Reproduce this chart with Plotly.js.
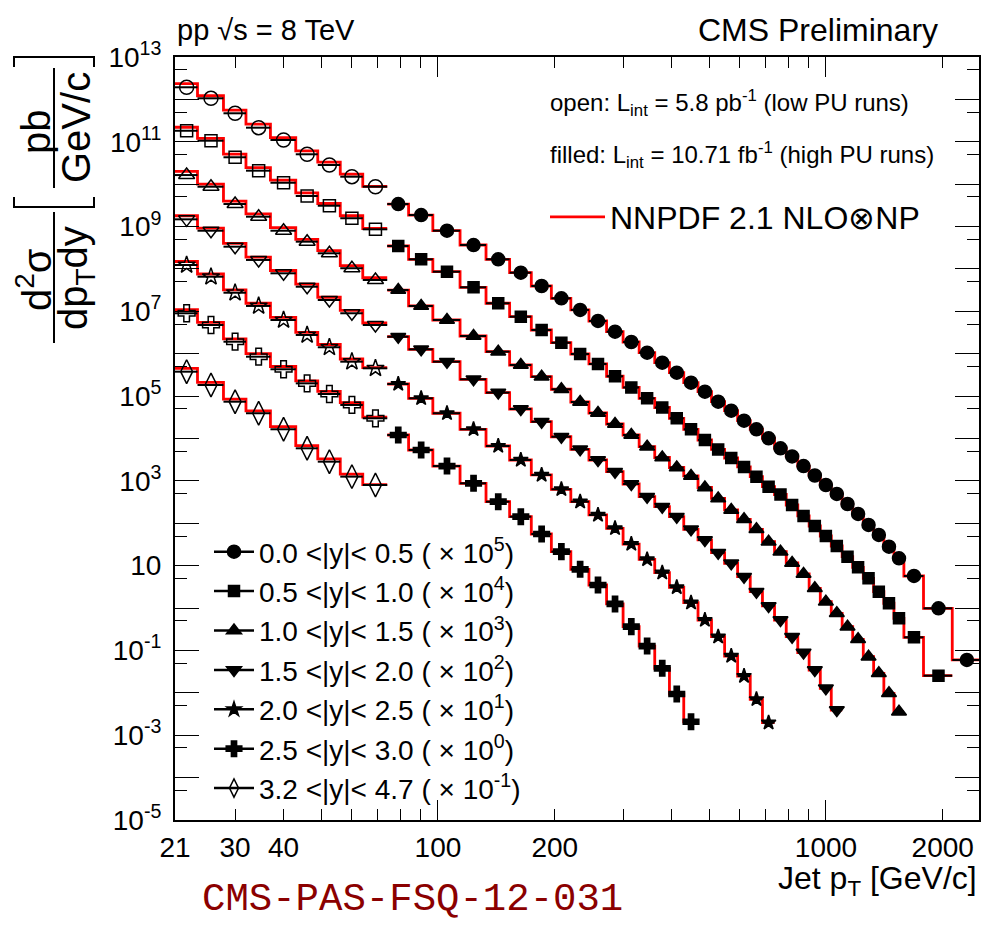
<!DOCTYPE html>
<html><head><meta charset="utf-8">
<script src="https://cdn.plot.ly/plotly-3.0.1.min.js"></script>
<style>html,body{margin:0;padding:0;background:#fff}</style>
</head><body><div id="chart" style="width:983px;height:925px"></div>
<script>
// ---------- bin edges (GeV/c) ----------
const edgesLow = [21,24,28,32,37,43,49,56,64,74];
const edgesHigh = [74,84,97,114,133,153,174,196,220,245,272,300,330,362,395,430,468,507,548,592,638,686,737,790,846,905,967,1032,1101,1172,1248,1327,1410,1497,1588,1784,2116,2500];

// ---------- low PU data (open markers), scaled ----------
const lowY0 = [1.93e12,1.06e12,4.70e11,2.15e11,1.10e11,5.07e10,2.83e10,1.50e10,8.71e9];
const lowY1 = [1.82e11,1.06e11,4.31e10,2.08e10,1.08e10,5.26e9,3.10e9,1.57e9,8.61e8];
const lowY2 = [1.64e10,8.71e9,3.40e9,1.71e9,7.98e8,4.40e8,2.34e8,1.04e8,5.48e7];
const lowY3 = [1.48e9,7.98e8,3.35e8,1.63e8,7.89e7,3.81e7,1.85e7,9.0e6,4.76e6];
const lowY4 = [1.24e8,6.56e7,2.75e7,1.34e7,6.25e6,2.77e6,1.42e6,6.49e5,4.53e5];
const lowY5 = [9.0e6,4.76e6,1.92e6,8.51e5,4.30e5,2.0e5,1.12e5,6.18e4,3.0e4];
const lowY6 = [3.77e5,1.83e5,7.38e4,3.94e4,1.65e4,5.87e3,2.84e3,1.26e3,800];

// ---------- low PU theory ----------
const lowTh0 = [2.35e12,1.22e12,5.6e11,2.6e11,1.25e11,6.1e10,3.3e10,1.72e10,8.9e9];
const lowTh1 = [2.2e11,1.2e11,5.1e10,2.45e10,1.25e10,6.2e9,3.5e9,1.8e9,9.0e8];
const lowTh2 = [2.0e10,1.0e10,4.0e9,2.0e9,9.4e8,5.0e8,2.7e8,1.2e8,6.2e7];
const lowTh3 = [1.8e9,9.2e8,4.0e8,1.9e8,9.2e7,4.4e7,2.15e7,1.05e7,5.3e6];
const lowTh4 = [1.5e8,7.6e7,3.2e7,1.55e7,7.2e6,3.2e6,1.65e6,7.5e5,4.7e5];
const lowTh5 = [1.1e7,5.5e6,2.25e6,1.0e6,5.0e5,2.3e5,1.3e5,7.0e4,3.2e4];
const lowTh6 = [4.5e5,2.1e5,8.5e4,4.5e4,1.9e4,6.8e3,3.3e3,1.45e3,820];

// ---------- high PU data (filled markers), scaled ----------
const highY0 = [3.40e9,1.87e9,7.98e8,3.67e8,1.69e8,8.17e7,3.96e7,2.03e7,1.08e7,5.92e6,3.31e6,1.89e6,1.06e6,6.14e5,3.57e5,2.07e5,1.27e5,7.38e4,4.53e4,2.63e4,1.65e4,1.01e4,5.87e3,3.77e3,2.24e3,1.34e3,800,491,285,166,91.2,53.0,28.1,14.9,5.71,0.986,0.0596];
const highY1 = [3.48e8,1.69e8,8.61e7,3.69e7,1.55e7,7.48e6,3.63e6,1.82e6,9.86e5,5.73e5,2.94e5,1.60e5,8.89e4,5.38e4,3.0e4,1.65e4,9.23e3,5.51e3,3.47e3,2.13e3,1.26e3,730,478,270,149,86.3,50.1,29.1,16.3,9.16,5.04,2.43,1.30,0.574,0.204,0.0254];
const highY2 = [3.18e7,1.34e7,6.25e6,2.62e6,1.12e6,5.42e5,2.87e5,1.45e5,7.26e4,4.0e4,2.20e4,1.21e4,6.41e3,3.56e3,2.07e3,1.31e3,698,385,206,124,72.1,36.8,21.4,11.6,6.37,2.92,1.41,0.752,0.363,0.183,0.0713,0.0289,9.75e-3,3.59e-3];
const highY3 = [2.52e6,1.27e6,6.49e5,2.49e5,1.21e5,4.97e4,2.49e4,1.10e4,5.56e3,3.11e3,1.65e3,845,424,246,143,72.1,40.4,20.2,11.4,5.50,2.43,1.12,0.522,0.211,0.0895,0.0346,0.0128,3.94e-3];
const highY4 = [1.93e5,8.89e4,3.94e4,1.65e4,6.65e3,3.11e3,1.38e3,634,323,157,76.2,32.4,14.1,6.82,3.09,1.34,0.522,0.211,0.0740,0.0249,7.05e-3,1.98e-3];
const highY5 = [1.21e4,5.36e3,2.24e3,877,323,143,55.8,21.4,8.22,3.50,1.25,0.364,0.127,0.0379,9.39e-3,2.08e-3];

// ---------- high PU theory ----------
const highTh0 = [3.40e9,1.87e9,7.98e8,3.67e8,1.69e8,8.17e7,3.96e7,2.03e7,1.08e7,5.92e6,3.31e6,1.89e6,1.06e6,6.14e5,3.57e5,2.07e5,1.27e5,7.38e4,4.53e4,2.63e4,1.65e4,1.01e4,5.87e3,3.77e3,2.24e3,1.34e3,800,491,285,166,91.2,53.0,28.1,14.9,5.71,0.986,0.0596];
const highTh1 = [3.48e8,1.69e8,8.61e7,3.69e7,1.55e7,7.48e6,3.63e6,1.82e6,9.86e5,5.73e5,2.94e5,1.60e5,8.89e4,5.38e4,3.0e4,1.65e4,9.23e3,5.51e3,3.47e3,2.13e3,1.26e3,730,478,270,149,86.3,50.1,29.1,16.3,9.16,5.04,2.43,1.30,0.574,0.204,0.0254];
const highTh2 = [3.18e7,1.34e7,6.25e6,2.62e6,1.12e6,5.42e5,2.87e5,1.45e5,7.26e4,4.0e4,2.20e4,1.21e4,6.41e3,3.56e3,2.07e3,1.31e3,698,385,206,124,72.1,36.8,21.4,11.6,6.37,2.92,1.41,0.752,0.363,0.183,0.0713,0.0289,9.75e-3,3.59e-3];
const highTh3 = [2.52e6,1.27e6,6.49e5,2.49e5,1.21e5,4.97e4,2.49e4,1.10e4,5.56e3,3.11e3,1.65e3,845,424,246,143,72.1,40.4,20.2,11.4,5.50,2.43,1.12,0.522,0.211,0.0895,0.0346,0.0128,3.94e-3];
const highTh4 = [1.93e5,8.89e4,3.94e4,1.65e4,6.65e3,3.11e3,1.38e3,634,323,157,76.2,32.4,14.1,6.82,3.09,1.34,0.522,0.211,0.0740,0.0249,7.05e-3,1.98e-3];
const highTh5 = [1.21e4,5.36e3,2.24e3,877,323,143,55.8,21.4,8.22,3.50,1.25,0.364,0.127,0.0379,9.39e-3,2.08e-3];

// ---------- labels ----------
const seriesLabels = [
  '0.0 &lt;|y|&lt; 0.5 ( × 10<sup>5</sup>)',
  '0.5 &lt;|y|&lt; 1.0 ( × 10<sup>4</sup>)',
  '1.0 &lt;|y|&lt; 1.5 ( × 10<sup>3</sup>)',
  '1.5 &lt;|y|&lt; 2.0 ( × 10<sup>2</sup>)',
  '2.0 &lt;|y|&lt; 2.5 ( × 10<sup>1</sup>)',
  '2.5 &lt;|y|&lt; 3.0 ( × 10<sup>0</sup>)',
  '3.2 &lt;|y|&lt; 4.7 ( × 10<sup>-1</sup>)'
];
const theoryLabel = 'NNPDF 2.1 NLO⊗NP';
const xLabelVals = [21,30,40,100,200,1000,2000];
const xLabelText = ['21','30','40','100','200','1000','2000'];
const xMinorVals = [30,40,50,60,70,80,90,200,300,400,500,600,700,800,900,2000];
const yMajorVals = [1e-5,1e-4,1e-3,1e-2,1e-1,1,10,100,1e3,1e4,1e5,1e6,1e7,1e8,1e9,1e10,1e11,1e12,1e13];
const yMajorText = ['10<sup>-5</sup>','','10<sup>-3</sup>','','10<sup>-1</sup>','','10','','10<sup>3</sup>','','10<sup>5</sup>','','10<sup>7</sup>','','10<sup>9</sup>','','10<sup>11</sup>','','10<sup>13</sup>'];
const yMinorVals = [5e-5,5e-4,5e-3,5e-2,5e-1,5,50,500,5e3,5e4,5e5,5e6,5e7,5e8,5e9,5e10,5e11,5e12];

const lowData = [lowY0,lowY1,lowY2,lowY3,lowY4,lowY5,lowY6];
const lowTheory = [lowTh0,lowTh1,lowTh2,lowTh3,lowTh4,lowTh5,lowTh6];
const highData = [highY0,highY1,highY2,highY3,highY4,highY5,null];
const highTheory = [highTh0,highTh1,highTh2,highTh3,highTh4,highTh5,null];

const filledSym = ['circle','square','triangle-up','triangle-down','star','cross','diamond-tall-open'];
const filledSize = [13,11,13,13,11,13,17];
const openSym = ['circle-open','square-open','triangle-up-open','triangle-down-open','star-open','cross-open','diamond-tall-open'];
const openSize = [14,12,14,14,13,14,17];

const FONT = 'Liberation Sans, Arial, sans-serif';
const RED = '#ff0000';

function centers(e, n){ const c=[]; for(let i=0;i<n;i++) c.push((e[i]+e[i+1])/2); return c; }
function errP(e, n){ const c=centers(e,n); return c.map((v,i)=>e[i+1]-v); }
function errM(e, n){ const c=centers(e,n); return c.map((v,i)=>v-e[i]); }
function stepY(v){ return v.concat([v[v.length-1]]); }

const traces = [];
let theoryLegendShown = false;
function theoryTrace(edges, vals){
  const t = {type:'scatter', mode:'lines', x: edges.slice(0, vals.length+1), y: stepY(vals),
    line:{shape:'hv', color:RED, width:2.8}, hoverinfo:'skip',
    name: theoryLabel, legend:'legend2', showlegend: !theoryLegendShown};
  theoryLegendShown = true;
  return t;
}
function dataTrace(edges, vals, sym, size){
  const n = vals.length;
  return {type:'scatter', mode:'markers', x: centers(edges,n), y: vals, showlegend:false,
    marker:{symbol:sym, size:size, color:'#000', line:{color:'#000', width:1.5}},
    error_x:{type:'data', symmetric:false, array: errP(edges,n), arrayminus: errM(edges,n),
      color:'#000', thickness:2, width:0}};
}
for(let s=0;s<7;s++){
  traces.push(theoryTrace(edgesLow, lowTheory[s]));
  if(highTheory[s]) traces.push(theoryTrace(edgesHigh, highTheory[s]));
}
for(let s=0;s<7;s++){
  traces.push(dataTrace(edgesLow, lowData[s], openSym[s], openSize[s]));
  if(highData[s]) traces.push(dataTrace(edgesHigh, highData[s], filledSym[s], filledSize[s]));
}
// legend entries
for(let s=0;s<7;s++){
  traces.push({type:'scatter', mode:'lines+markers', x:[null], y:[null], xaxis:'x2', name: seriesLabels[s],
    line:{color:'#000', width:2.5}, marker:{symbol: filledSym[s], size: Math.min(filledSize[s],13), color:'#000', line:{color:'#000', width:1.5}},
    legend:'legend', showlegend:true});
}

// pixel helpers for paper coords (plot area: x 175..979, y 57..820)
const px = v => (v-175)/804;
const py = v => (820-v)/763;

const xr = [Math.log10(21), Math.log10(2480)];
const axisCommon = {showgrid:false, zeroline:false, color:'#000'};
const yTitleFont = {family:FONT, size:40, color:'#000'};
const layout = {
  width:983, height:925,
  margin:{l:175, r:4, t:57, b:105, pad:0},
  paper_bgcolor:'#fff', plot_bgcolor:'#fff',
  font:{family:FONT, color:'#000'},
  xaxis: Object.assign({}, axisCommon, {type:'log', range:xr, tickmode:'array', tickvals:[100,1000], ticktext:['',''],
    showticklabels:false, ticks:'inside', ticklen:20, tickwidth:1, tickcolor:'#000',
    showline:true, linewidth:2, linecolor:'#000', mirror:'ticks',
    minor:{tickmode:'array', tickvals:xMinorVals, ticks:'inside', ticklen:11, tickwidth:1, tickcolor:'#000', showgrid:false}}),
  xaxis2: Object.assign({}, axisCommon, {type:'log', range:xr, overlaying:'x', anchor:'y', side:'bottom',
    tickmode:'array', tickvals:xLabelVals, ticktext:xLabelText, ticks:'', showline:false,
    tickfont:{family:FONT, size:28, color:'#000'}, ticklabelstandoff:8}),
  yaxis: Object.assign({}, axisCommon, {type:'log', range:[-5,13], tickmode:'array', tickvals:yMajorVals, ticktext:yMajorText,
    ticks:'inside', ticklen:24, tickwidth:1, tickcolor:'#000',
    showline:true, linewidth:2, linecolor:'#000', mirror:'ticks',
    tickfont:{family:FONT, size:28, color:'#000'}, ticklabelstandoff:6,
    minor:{tickmode:'array', tickvals:yMinorVals, ticks:'inside', ticklen:12, tickwidth:1, tickcolor:'#000', showgrid:false}}),
  legend:{x:px(209), xanchor:'left', y:py(670), yanchor:'middle', bgcolor:'rgba(0,0,0,0)', borderwidth:0,
    font:{family:FONT, size:28, color:'#000'}, itemwidth:40, tracegroupgap:0},
  legend2:{x:px(545), xanchor:'left', y:py(217), yanchor:'middle', bgcolor:'rgba(0,0,0,0)', borderwidth:0,
    font:{family:FONT, size:32, color:'#000'}, itemwidth:55},
  showlegend:true,
  annotations:[
    {xref:'paper', yref:'paper', x:0, y:py(30), xanchor:'left', yanchor:'middle', showarrow:false,
      text:'pp √s = 8 TeV', font:{family:FONT, size:29, color:'#000'}},
    {xref:'paper', yref:'paper', x:px(940), y:py(30), xanchor:'right', yanchor:'middle', showarrow:false,
      text:'CMS Preliminary', font:{family:FONT, size:32, color:'#000'}},
    {xref:'paper', yref:'paper', x:px(548), y:py(103), xanchor:'left', yanchor:'middle', showarrow:false,
      text:'open: L<sub>int</sub> = 5.8 pb<sup>-1</sup> (low PU runs)', font:{family:FONT, size:24, color:'#000'}},
    {xref:'paper', yref:'paper', x:px(548), y:py(155), xanchor:'left', yanchor:'middle', showarrow:false,
      text:'filled: L<sub>int</sub> = 10.71 fb<sup>-1</sup> (high PU runs)', font:{family:FONT, size:24, color:'#000'}},
    {xref:'paper', yref:'paper', x:1, y:py(881), xanchor:'right', yanchor:'middle', showarrow:false,
      text:'Jet p<sub>T</sub> [GeV/c]', font:{family:FONT, size:32, color:'#000'}},
    {xref:'paper', yref:'paper', x:px(200), y:py(900), xanchor:'left', yanchor:'middle', showarrow:false,
      text:'CMS-PAS-FSQ-12-031', font:{family:'Liberation Mono, DejaVu Sans Mono, monospace', size:39, color:'#8b0000'}},
    // y-axis title pieces
    {xref:'paper', yref:'paper', x:px(34), y:py(280), xanchor:'center', yanchor:'middle', textangle:-90, showarrow:false,
      text:'d<sup>2</sup>σ', font:yTitleFont},
    {xref:'paper', yref:'paper', x:px(76), y:py(278), xanchor:'center', yanchor:'middle', textangle:-90, showarrow:false,
      text:'dp<sub>T</sub>dy', font:yTitleFont},
    {xref:'paper', yref:'paper', x:px(36), y:py(132), xanchor:'center', yanchor:'middle', textangle:-90, showarrow:false,
      text:'pb', font:yTitleFont},
    {xref:'paper', yref:'paper', x:px(76), y:py(128), xanchor:'center', yanchor:'middle', textangle:-90, showarrow:false,
      text:'GeV/c', font:yTitleFont}
  ],
  shapes:[
    {type:'line', xref:'paper', yref:'paper', x0:px(54), x1:px(54), y0:py(212), y1:py(343), line:{color:'#000', width:2}},
    {type:'line', xref:'paper', yref:'paper', x0:px(54), x1:px(54), y0:py(68), y1:py(188), line:{color:'#000', width:2}},
    {type:'path', xref:'paper', yref:'paper',
      path:`M ${px(14)} ${py(197)} L ${px(14)} ${py(207)} L ${px(94)} ${py(207)} L ${px(94)} ${py(197)}`, line:{color:'#000', width:2}},
    {type:'path', xref:'paper', yref:'paper',
      path:`M ${px(14)} ${py(67)} L ${px(14)} ${py(57)} L ${px(94)} ${py(57)} L ${px(94)} ${py(67)}`, line:{color:'#000', width:2}}
  ]
};
Plotly.newPlot('chart', traces, layout, {displayModeBar:false, staticPlot:true});
</script>
</body></html>
